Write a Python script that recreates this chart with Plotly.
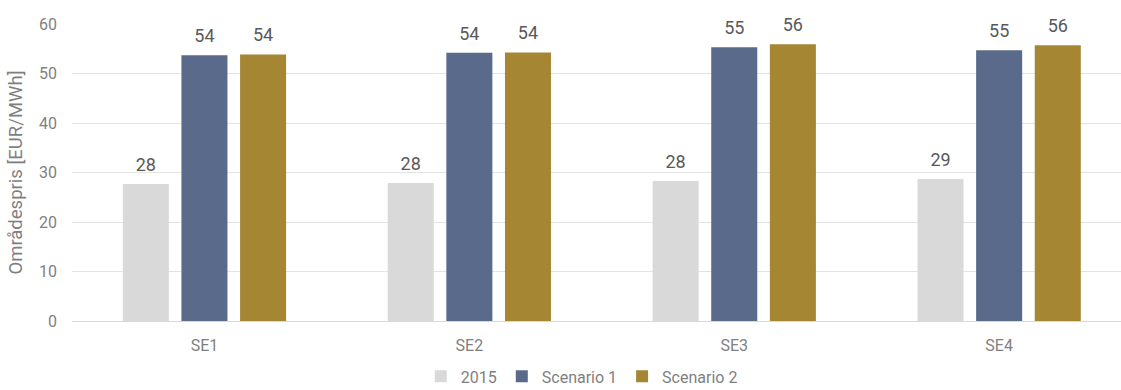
import plotly.graph_objects as go

# Area prices per bidding zone
zones = ["SE1", "SE2", "SE3", "SE4"]
price_2015 = [27.7, 27.9, 28.3, 28.7]
price_scenario1 = [53.7, 54.2, 55.3, 54.7]
price_scenario2 = [53.85, 54.25, 55.9, 55.7]

series = [
    ("2015", price_2015, "#d9d9d9"),
    ("Scenario 1", price_scenario1, "#5a6a8a"),
    ("Scenario 2", price_scenario2, "#a58632"),
]

FONT = "Roboto, Arial, sans-serif"
BARGAP = 0.336

fig = go.Figure()
for name, vals, color in series:
    fig.add_trace(go.Bar(
        x=zones, y=vals, name=name, offsetgroup=name,
        marker=dict(color=color, line=dict(width=0)),
    ))
# value labels, grouped the same way as the bars, lifted by an invisible marker
for name, vals, color in series:
    fig.add_trace(go.Scatter(
        x=zones, y=vals, offsetgroup=name, mode="markers+text",
        marker=dict(size=12, opacity=0),
        text=[f"{v:.0f}" for v in vals], textposition="top center",
        textfont=dict(color="#595959", size=18, family=FONT),
        showlegend=False, hoverinfo="skip", cliponaxis=False,
    ))

fig.update_layout(
    width=1121, height=390,
    margin=dict(l=72, r=0, t=24, b=69),
    paper_bgcolor="white", plot_bgcolor="white",
    barmode="group", bargap=BARGAP, bargroupgap=0.215,
    scattermode="group", scattergap=BARGAP,
    font=dict(family=FONT, color="#7f7f7f", size=16),
    showlegend=True,
    legend=dict(orientation="h", x=0.486, xanchor="center",
                yref="container", y=0.035, yanchor="middle",
                font=dict(size=16, color="#7f7f7f"), itemwidth=30,
                traceorder="normal"),
    xaxis=dict(range=[-0.5, 3.46], showgrid=False, showline=True,
               linecolor="#d9d9d9", linewidth=1, ticks="",
               ticklabelstandoff=10,
               tickfont=dict(size=16, color="#7f7f7f")),
    yaxis=dict(range=[0, 60], dtick=10, showgrid=True, gridcolor="#e3e3e3",
               gridwidth=1, zeroline=False, showline=False, ticks="",
               ticklabelstandoff=14,
               tickfont=dict(size=16, color="#7f7f7f")),
)
fig.update_yaxes(title=dict(text="Områdespris [EUR/MWh]", standoff=11,
                            font=dict(size=18.5, color="#7f7f7f")))

fig.write_html("out.html")
